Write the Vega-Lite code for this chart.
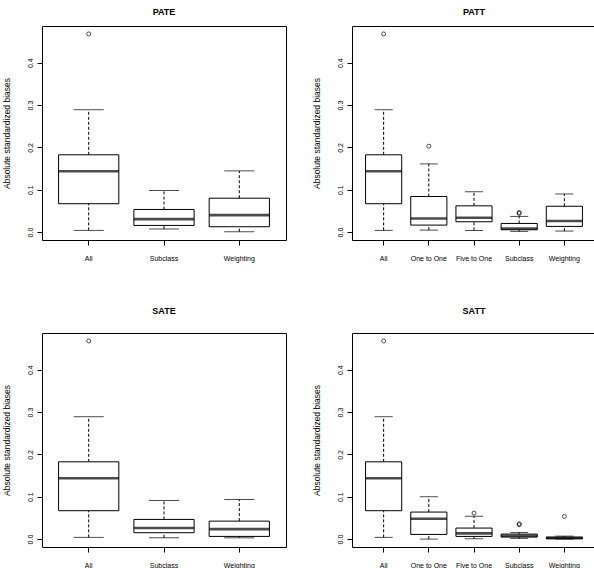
{
  "$schema": "https://vega.github.io/schema/vega-lite/v6.json",
  "padding": {"left": 1, "top": 7, "right": 0, "bottom": 0},
  "background": "white",
  "datasets": {
    "boxes": [
      {"panel": "PATE", "method": "All", "min": 0.004, "q1": 0.067, "median": 0.1438, "q3": 0.1825, "max": 0.289},
      {"panel": "PATE", "method": "Subclass", "min": 0.0071, "q1": 0.0157, "median": 0.0306, "q3": 0.0534, "max": 0.098},
      {"panel": "PATE", "method": "Weighting", "min": 0.0008, "q1": 0.0126, "median": 0.04, "q3": 0.08, "max": 0.1446},
      {"panel": "PATT", "method": "All", "min": 0.004, "q1": 0.067, "median": 0.1438, "q3": 0.1825, "max": 0.289},
      {"panel": "PATT", "method": "One to One", "min": 0.0047, "q1": 0.0165, "median": 0.0322, "q3": 0.084, "max": 0.161},
      {"panel": "PATT", "method": "Five to One", "min": 0.004, "q1": 0.0244, "median": 0.0338, "q3": 0.062, "max": 0.095},
      {"panel": "PATT", "method": "Subclass", "min": 0.0016, "q1": 0.0055, "median": 0.0086, "q3": 0.0204, "max": 0.037},
      {"panel": "PATT", "method": "Weighting", "min": 0.0024, "q1": 0.0134, "median": 0.026, "q3": 0.061, "max": 0.09},
      {"panel": "SATE", "method": "All", "min": 0.004, "q1": 0.067, "median": 0.1438, "q3": 0.1825, "max": 0.289},
      {"panel": "SATE", "method": "Subclass", "min": 0.003, "q1": 0.015, "median": 0.026, "q3": 0.0464, "max": 0.091},
      {"panel": "SATE", "method": "Weighting", "min": 0.003, "q1": 0.0063, "median": 0.0236, "q3": 0.0424, "max": 0.0935},
      {"panel": "SATT", "method": "All", "min": 0.004, "q1": 0.067, "median": 0.1438, "q3": 0.1825, "max": 0.289},
      {"panel": "SATT", "method": "One to One", "min": 0.0, "q1": 0.011, "median": 0.048, "q3": 0.0638, "max": 0.1},
      {"panel": "SATT", "method": "Five to One", "min": 0.001, "q1": 0.0063, "median": 0.0134, "q3": 0.026, "max": 0.054},
      {"panel": "SATT", "method": "Subclass", "min": 0.0016, "q1": 0.0047, "median": 0.008, "q3": 0.0118, "max": 0.0157},
      {"panel": "SATT", "method": "Weighting", "min": 0.0, "q1": 0.0008, "median": 0.0024, "q3": 0.0047, "max": 0.007}
    ],
    "outliers": [
      {"panel": "PATE", "method": "All", "value": 0.468},
      {"panel": "PATT", "method": "All", "value": 0.468},
      {"panel": "PATT", "method": "One to One", "value": 0.2028},
      {"panel": "PATT", "method": "Subclass", "value": 0.0464},
      {"panel": "PATT", "method": "Subclass", "value": 0.044},
      {"panel": "SATE", "method": "All", "value": 0.468},
      {"panel": "SATT", "method": "All", "value": 0.468},
      {"panel": "SATT", "method": "Five to One", "value": 0.0614},
      {"panel": "SATT", "method": "Subclass", "value": 0.036},
      {"panel": "SATT", "method": "Subclass", "value": 0.034},
      {"panel": "SATT", "method": "Weighting", "value": 0.0535}
    ]
  },
  "columns": 2,
  "spacing": {"row": 44, "column": 24},
  "concat": [
    {
      "title": {"text": "PATE", "offset": 9.3},
      "width": 244, "height": 214,
      "encoding": {"x": {"field": "method", "type": "nominal", "title": null, "scale": {"domain": ["All", "Subclass", "Weighting"], "paddingInner": 0.2, "paddingOuter": 0.22}}},
      "layer": [
        {"data": {"name": "boxes"}, "transform": [{"filter": "datum.panel === 'PATE'"}], "mark": {"type": "rule", "color": "black", "strokeWidth": 1, "strokeDash": [3, 2]},
         "encoding": {"y": {"field": "min", "type": "quantitative", "title": "Absolute standardized biases", "scale": {"domain": [-0.0187, 0.4867], "nice": false, "zero": false}, "axis": {"values": [0, 0.1, 0.2, 0.3, 0.4], "format": ".1f", "labelAngle": -90, "labelAlign": "center", "labelBaseline": "alphabetic", "labelPadding": 5, "titlePadding": 15}}, "y2": {"field": "q1"}}},
        {"data": {"name": "boxes"}, "transform": [{"filter": "datum.panel === 'PATE'"}], "mark": {"type": "rule", "color": "black", "strokeWidth": 1, "strokeDash": [3, 2]},
         "encoding": {"y": {"field": "q3", "type": "quantitative", "title": "Absolute standardized biases"}, "y2": {"field": "max"}}},
        {"data": {"name": "boxes"}, "transform": [{"filter": "datum.panel === 'PATE'"}], "mark": {"type": "tick", "color": "black", "thickness": 1, "size": 30.1},
         "encoding": {"y": {"field": "min", "type": "quantitative", "title": "Absolute standardized biases"}}},
        {"data": {"name": "boxes"}, "transform": [{"filter": "datum.panel === 'PATE'"}], "mark": {"type": "tick", "color": "black", "thickness": 1, "size": 30.1},
         "encoding": {"y": {"field": "max", "type": "quantitative", "title": "Absolute standardized biases"}}},
        {"data": {"name": "boxes"}, "transform": [{"filter": "datum.panel === 'PATE'"}], "mark": {"type": "bar", "fill": "white", "stroke": "black", "strokeWidth": 1, "width": {"band": 1}},
         "encoding": {"y": {"field": "q1", "type": "quantitative", "title": "Absolute standardized biases"}, "y2": {"field": "q3"}}},
        {"data": {"name": "boxes"}, "transform": [{"filter": "datum.panel === 'PATE'"}], "mark": {"type": "tick", "color": "black", "thickness": 2.6, "size": 60.2},
         "encoding": {"y": {"field": "median", "type": "quantitative", "title": "Absolute standardized biases"}}},
        {"data": {"name": "outliers"}, "transform": [{"filter": "datum.panel === 'PATE'"}], "mark": {"type": "point", "shape": "circle", "filled": false, "color": "black", "strokeWidth": 1, "size": 16},
         "encoding": {"y": {"field": "value", "type": "quantitative", "title": "Absolute standardized biases"}}}
      ]
    },
    {
      "title": {"text": "PATT", "offset": 9.3},
      "width": 244, "height": 214,
      "encoding": {"x": {"field": "method", "type": "nominal", "title": null, "scale": {"domain": ["All", "One to One", "Five to One", "Subclass", "Weighting"], "paddingInner": 0.2, "paddingOuter": 0.3}}},
      "layer": [
        {"data": {"name": "boxes"}, "transform": [{"filter": "datum.panel === 'PATT'"}], "mark": {"type": "rule", "color": "black", "strokeWidth": 1, "strokeDash": [3, 2]},
         "encoding": {"y": {"field": "min", "type": "quantitative", "title": "Absolute standardized biases", "scale": {"domain": [-0.0187, 0.4867], "nice": false, "zero": false}, "axis": {"values": [0, 0.1, 0.2, 0.3, 0.4], "format": ".1f", "labelAngle": -90, "labelAlign": "center", "labelBaseline": "alphabetic", "labelPadding": 5, "titlePadding": 15}}, "y2": {"field": "q1"}}},
        {"data": {"name": "boxes"}, "transform": [{"filter": "datum.panel === 'PATT'"}], "mark": {"type": "rule", "color": "black", "strokeWidth": 1, "strokeDash": [3, 2]},
         "encoding": {"y": {"field": "q3", "type": "quantitative", "title": "Absolute standardized biases"}, "y2": {"field": "max"}}},
        {"data": {"name": "boxes"}, "transform": [{"filter": "datum.panel === 'PATT'"}], "mark": {"type": "tick", "color": "black", "thickness": 1, "size": 18.1},
         "encoding": {"y": {"field": "min", "type": "quantitative", "title": "Absolute standardized biases"}}},
        {"data": {"name": "boxes"}, "transform": [{"filter": "datum.panel === 'PATT'"}], "mark": {"type": "tick", "color": "black", "thickness": 1, "size": 18.1},
         "encoding": {"y": {"field": "max", "type": "quantitative", "title": "Absolute standardized biases"}}},
        {"data": {"name": "boxes"}, "transform": [{"filter": "datum.panel === 'PATT'"}], "mark": {"type": "bar", "fill": "white", "stroke": "black", "strokeWidth": 1, "width": {"band": 1}},
         "encoding": {"y": {"field": "q1", "type": "quantitative", "title": "Absolute standardized biases"}, "y2": {"field": "q3"}}},
        {"data": {"name": "boxes"}, "transform": [{"filter": "datum.panel === 'PATT'"}], "mark": {"type": "tick", "color": "black", "thickness": 2.6, "size": 36.2},
         "encoding": {"y": {"field": "median", "type": "quantitative", "title": "Absolute standardized biases"}}},
        {"data": {"name": "outliers"}, "transform": [{"filter": "datum.panel === 'PATT'"}], "mark": {"type": "point", "shape": "circle", "filled": false, "color": "black", "strokeWidth": 1, "size": 16},
         "encoding": {"y": {"field": "value", "type": "quantitative", "title": "Absolute standardized biases"}}}
      ]
    },
    {
      "title": {"text": "SATE", "offset": 17.3},
      "width": 244, "height": 214,
      "encoding": {"x": {"field": "method", "type": "nominal", "title": null, "scale": {"domain": ["All", "Subclass", "Weighting"], "paddingInner": 0.2, "paddingOuter": 0.22}}},
      "layer": [
        {"data": {"name": "boxes"}, "transform": [{"filter": "datum.panel === 'SATE'"}], "mark": {"type": "rule", "color": "black", "strokeWidth": 1, "strokeDash": [3, 2]},
         "encoding": {"y": {"field": "min", "type": "quantitative", "title": "Absolute standardized biases", "scale": {"domain": [-0.0187, 0.4867], "nice": false, "zero": false}, "axis": {"values": [0, 0.1, 0.2, 0.3, 0.4], "format": ".1f", "labelAngle": -90, "labelAlign": "center", "labelBaseline": "alphabetic", "labelPadding": 5, "titlePadding": 15}}, "y2": {"field": "q1"}}},
        {"data": {"name": "boxes"}, "transform": [{"filter": "datum.panel === 'SATE'"}], "mark": {"type": "rule", "color": "black", "strokeWidth": 1, "strokeDash": [3, 2]},
         "encoding": {"y": {"field": "q3", "type": "quantitative", "title": "Absolute standardized biases"}, "y2": {"field": "max"}}},
        {"data": {"name": "boxes"}, "transform": [{"filter": "datum.panel === 'SATE'"}], "mark": {"type": "tick", "color": "black", "thickness": 1, "size": 30.1},
         "encoding": {"y": {"field": "min", "type": "quantitative", "title": "Absolute standardized biases"}}},
        {"data": {"name": "boxes"}, "transform": [{"filter": "datum.panel === 'SATE'"}], "mark": {"type": "tick", "color": "black", "thickness": 1, "size": 30.1},
         "encoding": {"y": {"field": "max", "type": "quantitative", "title": "Absolute standardized biases"}}},
        {"data": {"name": "boxes"}, "transform": [{"filter": "datum.panel === 'SATE'"}], "mark": {"type": "bar", "fill": "white", "stroke": "black", "strokeWidth": 1, "width": {"band": 1}},
         "encoding": {"y": {"field": "q1", "type": "quantitative", "title": "Absolute standardized biases"}, "y2": {"field": "q3"}}},
        {"data": {"name": "boxes"}, "transform": [{"filter": "datum.panel === 'SATE'"}], "mark": {"type": "tick", "color": "black", "thickness": 2.6, "size": 60.2},
         "encoding": {"y": {"field": "median", "type": "quantitative", "title": "Absolute standardized biases"}}},
        {"data": {"name": "outliers"}, "transform": [{"filter": "datum.panel === 'SATE'"}], "mark": {"type": "point", "shape": "circle", "filled": false, "color": "black", "strokeWidth": 1, "size": 16},
         "encoding": {"y": {"field": "value", "type": "quantitative", "title": "Absolute standardized biases"}}}
      ]
    },
    {
      "title": {"text": "SATT", "offset": 17.3},
      "width": 244, "height": 214,
      "encoding": {"x": {"field": "method", "type": "nominal", "title": null, "scale": {"domain": ["All", "One to One", "Five to One", "Subclass", "Weighting"], "paddingInner": 0.2, "paddingOuter": 0.3}}},
      "layer": [
        {"data": {"name": "boxes"}, "transform": [{"filter": "datum.panel === 'SATT'"}], "mark": {"type": "rule", "color": "black", "strokeWidth": 1, "strokeDash": [3, 2]},
         "encoding": {"y": {"field": "min", "type": "quantitative", "title": "Absolute standardized biases", "scale": {"domain": [-0.0187, 0.4867], "nice": false, "zero": false}, "axis": {"values": [0, 0.1, 0.2, 0.3, 0.4], "format": ".1f", "labelAngle": -90, "labelAlign": "center", "labelBaseline": "alphabetic", "labelPadding": 5, "titlePadding": 15}}, "y2": {"field": "q1"}}},
        {"data": {"name": "boxes"}, "transform": [{"filter": "datum.panel === 'SATT'"}], "mark": {"type": "rule", "color": "black", "strokeWidth": 1, "strokeDash": [3, 2]},
         "encoding": {"y": {"field": "q3", "type": "quantitative", "title": "Absolute standardized biases"}, "y2": {"field": "max"}}},
        {"data": {"name": "boxes"}, "transform": [{"filter": "datum.panel === 'SATT'"}], "mark": {"type": "tick", "color": "black", "thickness": 1, "size": 18.1},
         "encoding": {"y": {"field": "min", "type": "quantitative", "title": "Absolute standardized biases"}}},
        {"data": {"name": "boxes"}, "transform": [{"filter": "datum.panel === 'SATT'"}], "mark": {"type": "tick", "color": "black", "thickness": 1, "size": 18.1},
         "encoding": {"y": {"field": "max", "type": "quantitative", "title": "Absolute standardized biases"}}},
        {"data": {"name": "boxes"}, "transform": [{"filter": "datum.panel === 'SATT'"}], "mark": {"type": "bar", "fill": "white", "stroke": "black", "strokeWidth": 1, "width": {"band": 1}},
         "encoding": {"y": {"field": "q1", "type": "quantitative", "title": "Absolute standardized biases"}, "y2": {"field": "q3"}}},
        {"data": {"name": "boxes"}, "transform": [{"filter": "datum.panel === 'SATT'"}], "mark": {"type": "tick", "color": "black", "thickness": 2.6, "size": 36.2},
         "encoding": {"y": {"field": "median", "type": "quantitative", "title": "Absolute standardized biases"}}},
        {"data": {"name": "outliers"}, "transform": [{"filter": "datum.panel === 'SATT'"}], "mark": {"type": "point", "shape": "circle", "filled": false, "color": "black", "strokeWidth": 1, "size": 16},
         "encoding": {"y": {"field": "value", "type": "quantitative", "title": "Absolute standardized biases"}}}
      ]
    }
  ],
  "config": {
    "font": "Liberation Sans",
    "view": {"stroke": "black", "strokeWidth": 1},
    "axis": {"grid": false, "domain": false, "tickColor": "black", "tickSize": 5, "labelColor": "black", "labelFontSize": 7, "titleColor": "black", "titleFontWeight": "normal", "titleFontSize": 8.5, "labelOverlap": false},
    "axisX": {"labelAngle": 0, "labelPadding": 9},
    "title": {"fontSize": 9, "fontWeight": "bold", "baseline": "alphabetic", "color": "black", "anchor": "middle", "frame": "group"}
  }
}
